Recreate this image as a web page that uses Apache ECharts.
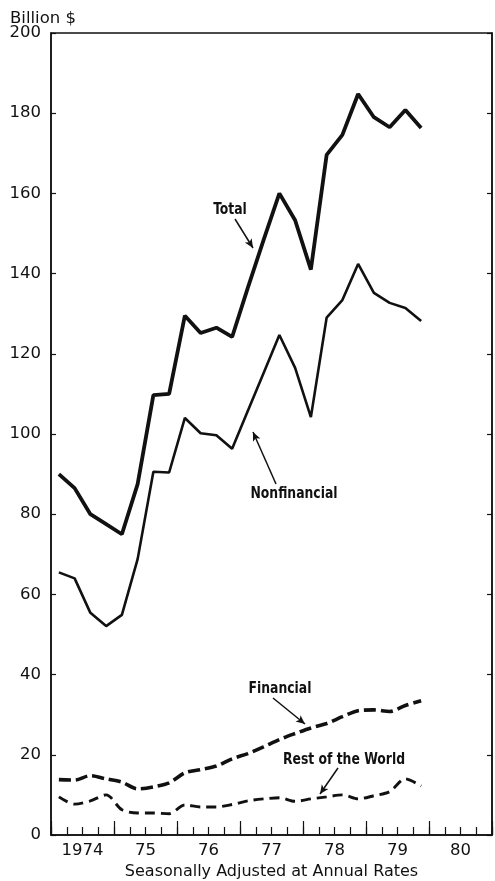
<!DOCTYPE html>
<html>
<head>
<meta charset="utf-8">
<script src="https://cdn.jsdelivr.net/npm/echarts@6/dist/echarts.min.js"></script>
<style>
  html, body { margin: 0; padding: 0; background: #fff; }
  #chart { width: 495px; height: 881px; }
</style>
</head>
<body>
<div id="chart"></div>
<script>
// quarterly data, billion $, seasonally adjusted annual rates
const years = ['1974', '75', '76', '77', '78', '79', '80'];
const quarters = years.flatMap(y => ['Q1', 'Q2', 'Q3', 'Q4'].map(q => y + q));

const total = [90, 86.5, 80, 77.5, 75, 87.5, 109.7, 110, 129.5, 125.2, 126.5, 124.2,
  136.5, 148.4, 160, 153.3, 141, 169.6, 174.6, 184.8, 179, 176.5, 180.8, 176.3];
const nonfinancial = [65.5, 64, 55.4, 52.1, 54.9, 68.8, 90.6, 90.4, 104, 100.2, 99.7, 96.3,
  105.8, 115.2, 124.7, 116.5, 104.2, 129, 133.4, 142.4, 135.2, 132.7, 131.4, 128.2];
const financial = [13.8, 13.7, 14.8, 14, 13.2, 11.5, 12, 13, 15.5, 16.3, 17.2, 19,
  20.3, 22, 23.8, 25.3, 26.7, 27.8, 29.5, 31, 31.2, 30.8, 32.3, 33.5];
const restOfWorld = [9.5, 7.7, 8.5, 10, 6.3, 5.5, 5.5, 5.3, 7.5, 7, 7, 7.6,
  8.5, 9, 9.3, 8.4, 9, 9.5, 10, 9, 9.8, 10.8, 14, 12.2];

const ink = '#111';
const axisFont = 'DejaVu Sans, Arial, sans-serif';
const noteFont = 'Liberation Sans Narrow, DejaVu Sans Condensed, sans-serif';

const chart = echarts.init(document.getElementById('chart'));

// annotation text (narrow bold, squeezed a bit more)
function note(text, x, y) {
  return {
    type: 'text', x: x, y: y, scaleX: 0.86,
    style: { text: text, fill: ink, font: 'bold 16px ' + noteFont, textAlign: 'center', textVerticalAlign: 'middle' }
  };
}

chart.setOption({
  animation: false,
  backgroundColor: '#fff',
  grid: {
    left: 51, right: 3, top: 33, bottom: 46, show: true, borderColor: ink, borderWidth: 1.5,
    outerBoundsMode: 'none', containLabel: false
  },
  xAxis: [
    {
      type: 'category', data: quarters, boundaryGap: true, position: 'bottom',
      axisLine: { show: true, lineStyle: { color: ink, width: 1.5 } },
      axisTick: { show: true, interval: 0, inside: true, length: 8, lineStyle: { color: ink, width: 1.2 } },
      axisLabel: { show: false }, splitLine: { show: false }
    },
    {
      type: 'category', data: years, boundaryGap: true, position: 'bottom',
      axisLine: { show: false },
      axisTick: { show: true, interval: 0, inside: true, length: 14, lineStyle: { color: ink, width: 1.2 } },
      axisLabel: { color: ink, fontSize: 16.5, fontFamily: axisFont, margin: 7 },
      name: 'Seasonally Adjusted at Annual Rates', nameLocation: 'middle', nameGap: 27,
      nameTextStyle: { color: ink, fontSize: 16, fontFamily: axisFont },
      splitLine: { show: false }
    }
  ],
  yAxis: [
    {
      type: 'value', min: 0, max: 200, interval: 20, position: 'left',
      axisLine: { show: true, lineStyle: { color: ink, width: 1.5 } },
      axisTick: { show: true, inside: true, length: 5, lineStyle: { color: ink, width: 1.2 } },
      axisLabel: { color: ink, fontSize: 16.5, fontFamily: axisFont, margin: 10 },
      splitLine: { show: false }
    },
    {
      type: 'value', min: 0, max: 200, interval: 20, position: 'right',
      axisLine: { show: true, lineStyle: { color: ink, width: 1.5 } },
      axisTick: { show: true, inside: true, length: 5, lineStyle: { color: ink, width: 1.2 } },
      axisLabel: { show: false },
      splitLine: { show: false }
    }
  ],
  series: [
    {
      name: 'Total', type: 'line', data: total, xAxisIndex: 0, yAxisIndex: 0,
      showSymbol: false, lineStyle: { color: ink, width: 3.8 },
      markLine: {
        silent: true, symbol: ['none', 'arrow'], symbolSize: [6, 9], label: { show: false },
        lineStyle: { color: ink, width: 1.5, type: 'solid' },
        data: [
          [{ x: 235, y: 219 }, { x: 253, y: 248 }],
          [{ x: 276, y: 484 }, { x: 253, y: 432 }],
          [{ x: 273, y: 698 }, { x: 305, y: 724 }],
          [{ x: 338, y: 768 }, { x: 320, y: 794 }]
        ]
      }
    },
    {
      name: 'Nonfinancial', type: 'line', data: nonfinancial, xAxisIndex: 0, yAxisIndex: 0,
      showSymbol: false, lineStyle: { color: ink, width: 2.6 }
    },
    {
      name: 'Financial', type: 'line', data: financial, xAxisIndex: 0, yAxisIndex: 0,
      showSymbol: false, smooth: 0.3, lineStyle: { color: ink, width: 3.6, type: [12, 5] }
    },
    {
      name: 'Rest of the World', type: 'line', data: restOfWorld, xAxisIndex: 0, yAxisIndex: 0,
      showSymbol: false, smooth: 0.3, lineStyle: { color: ink, width: 2.9, type: [10, 6] }
    }
  ],
  graphic: [
    {
      type: 'text', left: 10, top: 10,
      style: { text: 'Billion $', fill: ink, font: '16.5px ' + axisFont }
    },
    note('Total', 230, 210),
    note('Nonfinancial', 294, 494),
    note('Financial', 280, 689),
    note('Rest of the World', 344, 760)
  ]
});
</script>
</body>
</html>
